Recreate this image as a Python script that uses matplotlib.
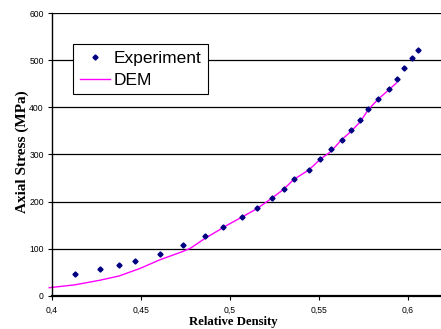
import matplotlib
matplotlib.use("Agg")
import matplotlib.pyplot as plt
from matplotlib.ticker import FuncFormatter

# experimental points (relative density, axial stress MPa)
exp_density = [0.413, 0.4273, 0.438, 0.4469, 0.4606, 0.4737, 0.4862, 0.4962,
               0.5068, 0.5153, 0.5235, 0.5302, 0.5359, 0.5443, 0.5508, 0.5566,
               0.5627, 0.568, 0.5733, 0.5776, 0.5834, 0.5894, 0.594, 0.5976,
               0.6024, 0.6057]
exp_stress = [46, 56, 65, 74.5, 88.7, 108, 127, 145.5,
              167, 186, 207, 227, 247, 267, 290, 311,
              331, 352, 374, 396.6, 418, 440, 461, 484,
              505, 523]

# DEM simulation curve
dem_density = [0.3987, 0.413, 0.4273, 0.438, 0.4497, 0.4606, 0.4737, 0.478,
               0.4862, 0.4947, 0.4962, 0.5068, 0.5153, 0.5235, 0.5302, 0.5359,
               0.5443, 0.5508, 0.5566, 0.5627, 0.568, 0.5733, 0.5776, 0.5834,
               0.5894, 0.5935]
dem_stress = [17, 23, 33, 42, 58, 76, 94, 101,
              122, 141, 145, 167, 185, 207, 226, 247,
              267, 290, 306, 331, 349, 370, 395, 418,
              438, 452]

fig = plt.figure(figsize=(4.41, 3.29), dpi=100)
ax = fig.add_axes([0.1168, 0.1012, 0.8832, 0.8584])

ax.plot(exp_density, exp_stress, linestyle="none", marker="D", markersize=2.6,
        color="#000080", label="Experiment", zorder=3)
ax.plot(dem_density, dem_stress, color="#ff00ff", linewidth=1.0, label="DEM",
        clip_on=False, zorder=2)

ax.set_xlim(0.4, 0.6185)
ax.set_ylim(0, 600)
ax.set_xticks([0.4, 0.45, 0.5, 0.55, 0.6])
ax.set_yticks(range(0, 601, 100))
ax.xaxis.set_major_formatter(FuncFormatter(lambda v, p: f"{v:g}".replace(".", ",")))
ax.yaxis.grid(True, color="black", linewidth=0.9)
ax.set_axisbelow(True)

for s in ["top", "right"]:
    ax.spines[s].set_visible(False)
ax.spines["left"].set_linewidth(1.0)
ax.spines["bottom"].set_linewidth(1.6)
ax.tick_params(axis="both", direction="out", length=3, width=0.8,
               labelsize=6.2)
ax.tick_params(axis="y", pad=2.5)
ax.tick_params(axis="x", pad=4)
for lab in ax.get_xticklabels() + ax.get_yticklabels():
    lab.set_fontfamily("Liberation Sans")

ax.set_xlabel("Relative Density", fontfamily="Liberation Serif",
              fontweight="bold", fontsize=9.2)
ax.set_ylabel("Axial Stress (MPa)", fontfamily="Liberation Serif",
              fontweight="bold", fontsize=11)
ax.xaxis.set_label_coords(0.466, -0.072)
ax.yaxis.set_label_coords(-0.058, 0.509)

leg = ax.legend(loc="upper left", bbox_to_anchor=(0.056, 0.89),
                prop={"family": "Liberation Sans", "size": 12.5},
                fancybox=False, framealpha=1, edgecolor="black",
                borderpad=0.36, handlelength=1.73, handletextpad=0.23,
                labelspacing=0.4, borderaxespad=0)
leg.get_frame().set_linewidth(0.8)

fig.savefig("out.png", dpi=100)
